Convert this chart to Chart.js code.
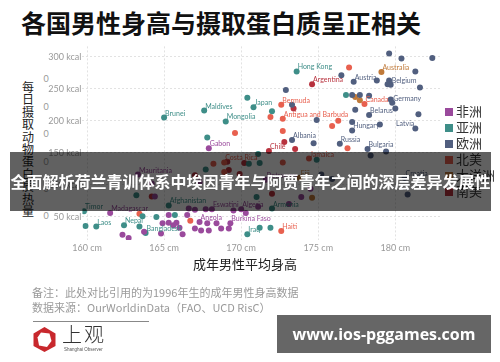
<!DOCTYPE html>
<html>
<head>
<meta charset="utf-8">
<script src="https://cdn.jsdelivr.net/npm/chart.js@4.4.1/dist/chart.umd.min.js"></script>
<style>
  body { margin: 0; width: 500px; height: 362px; background: #fff; position: relative; overflow: hidden; font-family: "Noto Sans CJK SC", sans-serif; }
  .abs { position: absolute; white-space: nowrap; }
  #title { left: 21px; top: 10px; font-size: 25px; line-height: 25px; font-weight: bold; color: #111; }
  #ytitle { position: absolute; left: 22px; top: 81px; width: 12px; font-size: 12px; line-height: 12.4px; color: #222; word-break: break-all; white-space: normal; }
  .zero { position: absolute; left: 42px; width: 8px; text-align: center; font: 9px Lato, sans-serif; color: #999; line-height: 10px; }
  #wrap { position: absolute; left: 0; top: 40px; width: 500px; height: 230px; }
  .leg { position: absolute; left: 445px; height: 16px; line-height: 16px; font-size: 13px; color: #333; white-space: nowrap; }
  .leg i { display: inline-block; width: 8px; height: 8px; margin-right: 3px; vertical-align: 0px; }
  #xtitle { left: 193px; top: 257px; font-size: 13px; line-height: 14px; color: #222; }
  #banner { position: absolute; left: 10px; top: 152px; width: 481px; height: 59px; background: rgba(0,0,0,0.62); color: #fff; font-size: 16px; font-weight: bold; line-height: 59px; text-align: center; white-space: nowrap; }
  #note { left: 32px; top: 285px; font-size: 11px; line-height: 15px; color: #9a9a9a; }
  #rule { position: absolute; left: 33px; top: 321px; width: 116px; height: 1px; background: #888; }
  #brand { left: 62px; top: 322px; font-size: 20px; line-height: 24px; color: #333; font-weight: 300; letter-spacing: 2px; }
  #brand2 { left: 64px; top: 347px; font: 4.5px "Liberation Sans", sans-serif; color: #555; }
  #wm { position: absolute; left: 277px; top: 315px; width: 214px; height: 38px; background: #666; color: #fff; font: bold 16px "Open Sans", sans-serif; line-height: 38px; text-align: center; }
</style>
</head>
<body>
<div class="abs" id="title">各国男性身高与摄取蛋白质呈正相关</div>
<div id="ytitle">每日摄取动物蛋白质热量</div>
<div class="zero" style="top:74px">0</div>
<div class="zero" style="top:102px">0</div>
<div class="zero" style="top:129px">0</div>
<div class="zero" style="top:157px">0</div>
<div class="zero" style="top:184px">0</div>
<div class="zero" style="top:211px">0</div>
<div id="wrap"><canvas id="chart" width="500" height="230"></canvas></div>
<div id="legend"></div>
<div class="abs" id="xtitle">成年男性平均身高</div>
<div id="banner">全面解析荷兰青训体系中埃因青年与阿贾青年之间的深层差异发展性</div>
<div class="abs" id="note">备注：此处对比引用的为1996年生的成年男性身高数据<br>数据来源：OurWorldinData（FAO、UCD RisC）</div>
<div id="rule"></div>
<svg style="position:absolute;left:32px;top:326px" width="25" height="27" viewBox="0 0 25 27">
  <polygon points="12.5,1 23.5,7.5 23.5,20 12.5,26 1.5,20 1.5,7.5" fill="#c8282d"/>
  <polygon points="9,6.5 17.5,7.5 19.5,15 15,21 7,19.5 5.5,11.5" fill="#fff"/>
</svg>
<div class="abs" id="brand">上观</div>
<div class="abs" id="brand2">Shanghai Observer</div>
<div id="wm">www.ios-pggames.com</div>

<script>
// continents, in legend order
const continents = ['非洲', '亚洲', '欧洲', '北美', '大洋洲', '南美'];
const continentColors = ['#9a4a9c', '#3e8e88', '#515f7f', '#e8604f', '#c07a3a', '#b8323e'];

// height in cm, animal protein kcal per day, country label ('' = unlabelled)
const africaHeight = [167.9, 163.3, 161.5, 162.3, 162.7, 163.7, 164.9, 164.8, 165.3, 165.6, 166.0, 166.2, 166.5, 167.0, 167.3, 167.4, 167.8, 167.9, 168.4, 168.7, 169.3, 169.2, 166.6, 167.0, 167.7, 168.1, 169.5, 170.0, 171.1, 173.1, 173.9, 164.4, 174.5, 165.3, 165.8, 164.2, 170.3, 171.6, 167.3];
const africaKcal   = [157, 116, 56, 22, 17, 27, 40, 24, 53, 37, 33, 23, 53, 32, 42, 29, 40, 29, 40, 32, 40, 32, 63, 61, 62, 62, 60, 62, 66, 70, 81, 82, 94, 41, 41, 102, 56, 108, 104];
const africaName   = ['Gabon', 'Mauritania', 'Madagascar', '', '', '', '', '', '', '', '', '', '', '', 'Angola', '', '', '', '', '', 'Burkina Faso', '', '', '', '', 'Eswatini', '', 'Algeria', '', '', '', '', '', '', '', '', '', 'Botswana', ''];

const asiaHeight = [173.6, 170.4, 170.8, 172.0, 167.6, 165.0, 169.0, 167.8, 176.8, 171.1, 174.9, 171.2, 170.5, 159.8, 160.6, 159.9, 162.4, 163.4, 163.8, 164.5, 163.6, 165.7, 165.3, 163.2, 171.0, 172.0, 170.4, 171.2, 171.9, 167.7];
const asiaKcal   = [277, 236, 221, 215, 216, 205, 199, 174, 240, 148, 139, 134, 133, 59, 35, 36, 37, 35, 25, 50, 51, 53, 68, 84, 81, 63, 23, 33, 33, 124];
const asiaName   = ['Hong Kong', '', 'Japan', '', 'Maldives', 'Brunei', 'Mongolia', '', '', '', '', '', '', 'Timor', 'Laos', '', 'Nepal', '', 'Bangladesh', '', '', '', 'Afghanistan', '', '', 'Armenia', 'Iraq', '', '', ''];

const europeHeight = [179.6, 180.4, 182.4, 181.3, 176.5, 177.3, 178.8, 179.6, 179.5, 179.7, 181.6, 172.9, 173.3, 177.2, 177.7, 178.3, 179.8, 179.7, 177.4, 180.0, 178.3, 181.5, 174.9, 181.3, 177.2, 177.2, 179.0, 173.3, 174.7, 176.4, 178.2, 179.4, 178.4, 180.6, 180.8, 175.2, 175.9];
const europeKcal   = [305, 297, 298, 277, 271, 261, 263, 263, 257, 256, 252, 248, 225, 240, 240, 239, 228, 233, 217, 219, 209, 210, 201, 188, 198, 185, 194, 170, 165, 164, 156, 152, 146, 111, 85, 116, 109];
const europeName   = ['', '', '', '', '', 'Austria', '', '', '', 'Belgium', '', '', '', '', '', '', 'Germany', '', '', '', 'Belarus', '', '', 'Latvia', '', 'Hungary', '', 'Albania', '', 'Russia', 'Bulgaria', '', '', 'Croatia', '', '', ''];

const northAmericaHeight = [177.0, 172.6, 171.9, 172.7, 169.6, 172.7, 178.0, 176.3, 175.9, 176.9, 174.4, 168.9, 168.2, 172.7, 172.6, 163.4, 166.7, 168.9];
const northAmericaKcal   = [283, 225, 206, 203, 181, 184, 226, 200, 192, 157, 141, 135, 133, 135, 28, 55, 44, 120];
const northAmericaName   = ['', 'Bermuda', '', 'Antigua and Barbuda', '', '', 'Canada', '', '', '', 'Jamaica', 'Costa Rica', '', '', 'Haiti', '', '', ''];

const oceaniaHeight = [179.1, 177.4, 177.7, 173.8, 174.6];
const oceaniaKcal   = [276, 237, 232, 111, 80];
const oceaniaName   = ['Australia', '', '', 'Fiji', ''];

const southAmericaHeight = [174.6, 173.4, 172.8, 171.8, 173.5, 169.1, 170.2, 169.2, 164.2, 169.9, 172.0, 167.0];
const southAmericaKcal   = [257, 219, 167, 153, 156, 136, 134, 123, 82, 117, 86, 115];
const southAmericaName   = ['Argentina', '', '', 'Chile', '', '', '', '', '', '', '', ''];

const xTicks = [160, 165, 170, 175, 180];
const yTicks = [50, 100, 150, 200, 250, 300];

const series = [
  [africaHeight, africaKcal, africaName],
  [asiaHeight, asiaKcal, asiaName],
  [europeHeight, europeKcal, europeName],
  [northAmericaHeight, northAmericaKcal, northAmericaName],
  [oceaniaHeight, oceaniaKcal, oceaniaName],
  [southAmericaHeight, southAmericaKcal, southAmericaName]
];

// labels that sit to the left of their dot
const leftLabels = new Set(['Latvia']);

const datasets = series.map(([hs, ks, ns], i) => ({
  label: continents[i],
  data: hs.map((h, j) => ({ x: h, y: ks[j], n: ns[j] })),
  backgroundColor: continentColors[i],
  borderWidth: 0,
  pointRadius: 3,
  pointHoverRadius: 3
}));

// legend (html)
const legend = document.getElementById('legend');
continents.forEach((c, i) => {
  const d = document.createElement('div');
  d.className = 'leg';
  d.style.top = (103 + i * 16) + 'px';
  d.innerHTML = '<i style="background:' + continentColors[i] + '"></i>' + c;
  legend.appendChild(d);
});

const pointLabels = {
  id: 'pointLabels',
  afterDatasetsDraw(chart) {
    const ctx = chart.ctx;
    ctx.save();
    ctx.font = '7px Lato, sans-serif';
    ctx.textBaseline = 'alphabetic';
    chart.data.datasets.forEach((ds, i) => {
      const meta = chart.getDatasetMeta(i);
      ctx.fillStyle = ds.backgroundColor;
      meta.data.forEach((el, j) => {
        const name = ds.data[j].n;
        if (!name) return;
        if (leftLabels.has(name)) {
          ctx.textAlign = 'right';
          ctx.fillText(name, el.x - 1, el.y - 2);
        } else {
          ctx.textAlign = 'left';
          ctx.fillText(name, el.x + 1, el.y - 2);
        }
      });
    });
    ctx.restore();
  }
};

new Chart(document.getElementById('chart'), {
  type: 'scatter',
  data: { datasets },
  plugins: [pointLabels],
  options: {
    responsive: false,
    animation: false,
    devicePixelRatio: 1,
    layout: { padding: { top: 5, right: 60, left: 0, bottom: 0 } },
    plugins: { legend: { display: false }, tooltip: { enabled: false } },
    scales: {
      x: {
        type: 'linear',
        min: 159.7,
        max: 182.9,
        afterBuildTicks: s => { s.ticks = xTicks.map(v => ({ value: v })); },
        afterFit: s => { s.height = 30; },
        ticks: {
          callback: v => v + ' cm',
          font: { family: 'Lato', size: 9 },
          color: '#999',
          padding: 3,
          maxRotation: 0,
          autoSkip: false
        },
        grid: { color: '#e2e2e2', drawTicks: false },
        border: { display: false, dash: [2, 2] }
      },
      y: {
        min: 14,
        max: 316,
        afterBuildTicks: s => { s.ticks = yTicks.map(v => ({ value: v })); },
        afterFit: s => { s.width = 82.4; },
        ticks: {
          callback: v => v + ' kcal',
          font: { family: 'Lato', size: 9 },
          color: '#999',
          padding: 1
        },
        grid: { color: '#e2e2e2', drawTicks: false },
        border: { display: false, dash: [2, 2] }
      }
    }
  }
});
</script>
</body>
</html>
